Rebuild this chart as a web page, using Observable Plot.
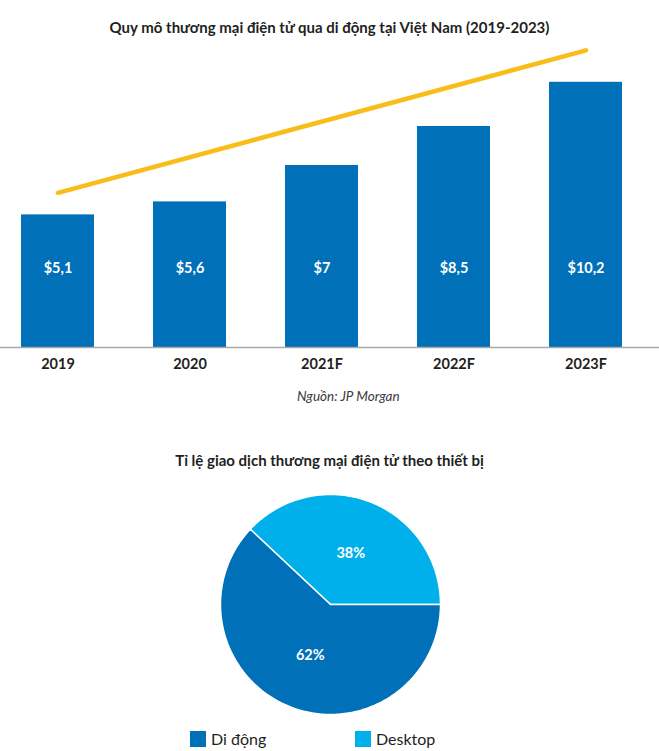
<!DOCTYPE html>
<html>
<head>
<meta charset="utf-8">
<script src="https://cdn.jsdelivr.net/npm/d3@7"></script>
<script src="https://cdn.jsdelivr.net/npm/@observablehq/plot@0.6"></script>
<style>
  body { margin: 0; background: #fff; font-family: Lato, "Noto Sans", sans-serif; color: #231f20; }
  #root { position: relative; width: 659px; height: 751px; overflow: hidden; }
  .abs { position: absolute; }
  #title1 { top: 17px; left: 0; width: 659px; text-align: center; font-weight: bold; font-size: 15px; line-height: 20px; }
  #bars { top: 40px; left: 0; }
  #source { top: 388px; left: 297px; font-style: italic; font-size: 13.5px; line-height: 16px; color: #3a3a3a; }
  #title2 { top: 450px; left: 0; width: 659px; text-align: center; font-weight: bold; font-size: 15px; line-height: 20px; }
  #pie { top: 484px; left: 0; }
  #legend { top: 722px; left: 190px; font-size: 16px; }
  #legend span { width: 165px; margin-right: 0 !important; font-size: 16px; color: #231f20; }
  #legend svg { margin-right: 5px !important; }
</style>
</head>
<body>
<div id="root">
  <div id="title1" class="abs">Quy mô thương mại điện tử qua di động tại Việt Nam (2019-2023)</div>
  <div id="bars" class="abs"></div>
  <div id="source" class="abs">Nguồn: JP Morgan</div>
  <div id="title2" class="abs">Tỉ lệ giao dịch thương mại điện tử theo thiết bị</div>
  <div id="pie" class="abs"></div>
  <div id="legend" class="abs"></div>
</div>
<script>
// ---- Data ----
const years = ["2019", "2020", "2021F", "2022F", "2023F"];
const values = [5.1, 5.6, 7, 8.5, 10.2];
const valueLabels = ["$5,1", "$5,6", "$7", "$8,5", "$10,2"];
const trendYears = ["2019", "2023F"];
const trendValues = [5.95, 11.43];

const devices = ["Di động", "Desktop"];
const shares = [62, 38];
const shareLabels = ["62%", "38%"];
const deviceColors = ["#0070b8", "#00b0ea"];

// ---- Bar chart ----
const barData = years.map((y, i) => ({year: y, value: values[i], label: valueLabels[i]}));
const trendData = trendYears.map((y, i) => ({year: y, value: trendValues[i]}));

const bars = Plot.plot({
  width: 659,
  height: 337,
  marginTop: 0,
  marginBottom: 30,
  marginLeft: 0,
  marginRight: 0,
  style: {fontFamily: "Lato, 'Noto Sans', sans-serif", fontSize: "14.5px", fontWeight: "bold", color: "#231f20", background: "transparent"},
  x: {domain: years, paddingInner: 0.45, paddingOuter: 0.212, align: 0.357, label: null, tickSize: 0, tickPadding: 11},
  y: {domain: [0, 307 / 26], axis: null},
  marks: [
    Plot.barY(barData, {x: "year", y: "value", fill: "#0070b8"}),
    Plot.ruleY([0], {stroke: "#a8a8a8", strokeWidth: 1.5}),
    Plot.line(trendData, {x: "year", y: "value", stroke: "#f8bd19", strokeWidth: 4.5}),
    Plot.text(barData, {x: "year", y: () => 0, dy: -79, text: "label", fill: "white", fontWeight: "bold", fontSize: 14.5})
  ]
});
document.getElementById("bars").appendChild(bars);

// ---- Pie chart ----
// Desktop slice starts at 3 o'clock going counter-clockwise, then Di động.
const order = [1, 0];
const piePts = [];
const pieLabels = [];
let acc = 0;
for (const i of order) {
  const a0 = acc, a1 = acc + shares[i] / 100 * 2 * Math.PI;
  acc = a1;
  piePts.push({device: devices[i], x: 0, y: 0});
  const n = Math.max(2, Math.ceil((a1 - a0) / (Math.PI / 180)));
  for (let k = 0; k <= n; k++) {
    const a = a0 + (a1 - a0) * k / n;
    piePts.push({device: devices[i], x: Math.cos(a), y: Math.sin(a)});
  }
  piePts.push({device: devices[i], x: 0, y: 0});
  const am = (a0 + a1) / 2;
  pieLabels.push({device: devices[i], label: shareLabels[i], x: 0.5 * Math.cos(am), y: 0.5 * Math.sin(am)});
}

const pie = Plot.plot({
  width: 659,
  height: 240,
  marginLeft: 220,
  marginRight: 219,
  marginTop: 10,
  marginBottom: 10,
  style: {fontFamily: "Lato, 'Noto Sans', sans-serif", background: "transparent"},
  x: {domain: [-1, 1], axis: null},
  y: {domain: [-1, 1], axis: null},
  color: {domain: devices, range: deviceColors},
  marks: [
    Plot.line(piePts, {x: "x", y: "y", z: "device", fill: "device", stroke: "white", strokeWidth: 1.5, strokeLinejoin: "round"}),
    Plot.text(pieLabels, {x: "x", y: "y", text: "label", fill: "white", fontWeight: "bold", fontSize: 14.5})
  ]
});
document.getElementById("pie").appendChild(pie);

// ---- Legend ----
const legend = Plot.legend({
  color: {domain: devices, range: deviceColors},
  swatchSize: 16,
  style: {fontFamily: "Lato, 'Noto Sans', sans-serif", fontSize: "16px", color: "#231f20"}
});
document.getElementById("legend").appendChild(legend);
</script>
</body>
</html>
